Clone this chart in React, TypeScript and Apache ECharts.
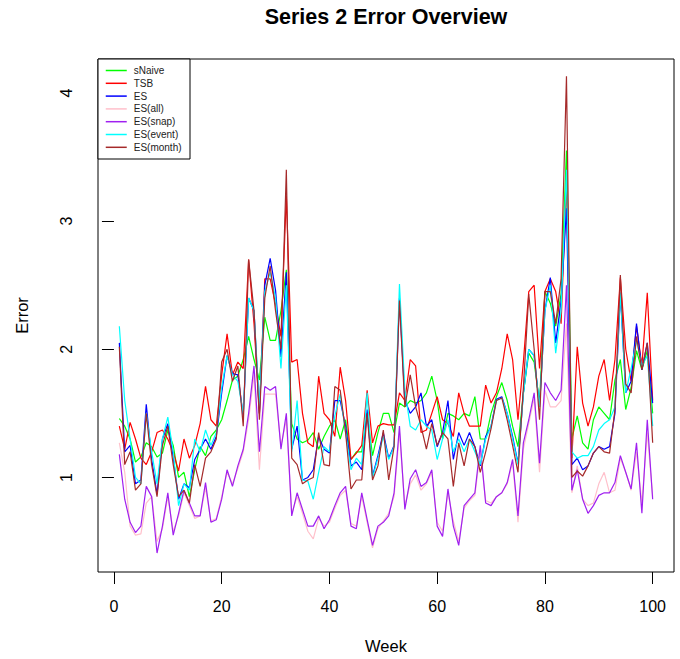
import { useEffect, useRef } from "react";
import * as echarts from "echarts";

const seriesNames = ["sNaive", "TSB", "ES", "ES(all)", "ES(snap)", "ES(event)", "ES(month)"];
const seriesColors = ["#00FF00", "#FF0000", "#0000FF", "#FFC0CB", "#A020F0", "#00FFFF", "#A52A2A"];

const xTicks = [0, 20, 40, 60, 80, 100];
const yTicks = [1, 2, 3, 4];

const sNaive = [
  1.46, 1.40, 1.30, 1.12, 1.16, 1.27, 1.24, 1.16, 1.19, 1.37,
  1.25, 1.00, 1.04, 0.85, 1.06, 1.24, 1.17, 1.32, 1.37, 1.45,
  1.60, 1.76, 1.79, 1.92, 2.10, 1.92, 1.76, 2.25, 2.07, 2.07,
  2.30, 2.62, 1.42, 1.30, 1.27, 1.29, 1.35, 1.22, 1.32, 1.40,
  1.45, 1.30, 1.45, 1.14, 1.20, 1.20, 1.50, 1.17, 1.35, 1.50,
  1.50, 1.35, 1.58, 1.55, 1.60, 1.58, 1.60, 1.66, 1.79, 1.60,
  1.30, 1.50, 1.48, 1.45, 1.50, 1.48, 1.63, 1.30, 1.30, 1.50,
  1.63, 1.74, 1.60, 1.40, 1.24, 1.66, 1.97, 1.90, 1.58, 2.45,
  2.36, 2.18, 2.43, 3.55, 1.30, 1.48, 1.27, 1.22, 1.45, 1.55,
  1.50, 1.45, 1.76, 1.92, 1.53, 1.70, 1.99, 1.84, 1.99, 1.50,
];

const tsb = [
  1.40, 1.22, 1.43, 1.30, 1.15, 1.10, 1.20, 1.35, 1.37, 1.30,
  1.20, 1.05, 1.30, 1.15, 1.25, 1.42, 1.71, 1.45, 1.40, 1.80,
  2.12, 1.80, 1.90, 1.85, 2.70, 2.20, 1.50, 2.55, 2.55, 2.35,
  2.10, 3.20, 1.90, 1.92, 1.50, 1.27, 1.24, 1.79, 1.50, 1.45,
  1.32, 1.86, 1.60, 1.14, 1.19, 1.25, 1.68, 1.27, 1.40, 1.42,
  1.41, 1.41, 1.66, 1.60, 1.92, 1.87, 1.35, 1.37, 1.50, 1.63,
  1.45, 1.42, 1.32, 1.66, 1.50, 1.40, 1.40, 1.40, 1.72, 1.58,
  1.66, 1.85, 2.12, 1.92, 1.45, 1.90, 2.45, 2.50, 1.85, 2.45,
  2.55, 2.45, 2.20, 3.30, 1.15, 2.02, 1.58, 1.40, 1.55, 1.79,
  1.92, 1.60, 1.92, 2.56, 2.00, 1.75, 2.18, 1.87, 2.44, 1.60,
];

const es = [
  2.05, 1.20, 1.25, 0.95, 0.98, 1.57, 1.14, 0.87, 1.30, 1.42,
  1.16, 0.83, 0.95, 0.92, 1.14, 1.22, 1.30, 1.22, 1.32, 1.66,
  1.95, 1.81, 1.80, 1.48, 2.40, 2.30, 1.50, 2.50, 2.71, 2.46,
  1.94, 2.60, 1.22, 1.40, 0.98, 1.00, 1.06, 1.32, 1.22, 1.19,
  1.60, 1.60, 1.40, 1.09, 1.12, 1.06, 1.53, 1.01, 1.17, 1.35,
  1.15, 1.25, 2.40, 1.60, 1.50, 1.55, 1.66, 1.40, 1.45, 1.24,
  1.35, 1.60, 1.14, 1.35, 1.25, 1.35, 1.24, 1.09, 1.32, 1.40,
  1.61, 1.63, 1.50, 1.32, 1.11, 1.66, 2.00, 1.95, 1.55, 2.30,
  2.56, 2.05, 2.38, 3.10, 1.10, 1.15, 1.06, 1.09, 1.19, 1.24,
  1.22, 1.24, 1.50, 2.44, 1.66, 1.75, 2.20, 1.84, 2.05, 1.58,
];

const esAll = [
  1.27, 1.04, 0.62, 0.55, 0.56, 0.80, 0.85, 0.50, 0.60, 0.85,
  0.58, 0.70, 0.88, 0.78, 0.68, 0.70, 0.92, 0.66, 0.68, 0.85,
  1.04, 0.95, 1.07, 1.20, 1.45, 1.80, 1.06, 1.65, 1.65, 1.65,
  1.25, 1.45, 0.72, 0.85, 0.72, 0.58, 0.52, 0.68, 0.62, 0.65,
  0.76, 0.86, 0.90, 0.64, 0.62, 0.85, 0.65, 0.45, 0.60, 0.66,
  0.72, 0.85, 1.35, 0.78, 0.95, 1.02, 0.90, 0.95, 1.04, 0.65,
  0.58, 0.88, 0.66, 0.50, 0.76, 0.82, 0.86, 1.20, 0.82, 0.80,
  0.85, 0.88, 0.95, 1.12, 0.65, 1.22, 1.42, 1.62, 1.04, 1.68,
  1.55, 1.55, 1.60, 2.20, 0.88, 1.09, 0.83, 0.78, 0.80, 0.95,
  1.04, 0.88, 0.90, 1.15, 1.04, 0.90, 1.20, 0.80, 1.35, 0.85,
];

const esSnap = [
  1.18, 0.83, 0.65, 0.57, 0.62, 0.93, 0.85, 0.41, 0.62, 0.88,
  0.55, 0.72, 0.90, 0.80, 0.70, 0.70, 0.96, 0.65, 0.67, 0.83,
  1.06, 0.93, 1.09, 1.22, 1.50, 1.87, 1.20, 1.71, 1.68, 1.71,
  1.22, 1.50, 0.70, 0.88, 0.75, 0.62, 0.62, 0.70, 0.60, 0.67,
  0.78, 0.88, 0.93, 0.62, 0.60, 0.88, 0.67, 0.47, 0.62, 0.65,
  0.70, 0.88, 1.40, 0.75, 0.99, 1.06, 0.93, 0.96, 1.06, 0.62,
  0.54, 0.91, 0.62, 0.47, 0.78, 0.83, 0.88, 1.25, 0.80, 0.78,
  0.85, 0.88, 0.96, 1.14, 0.70, 1.27, 1.45, 1.66, 1.11, 1.74,
  1.66, 1.60, 1.68, 2.50, 0.90, 1.06, 0.83, 0.72, 0.78, 0.86,
  0.88, 0.88, 0.96, 1.17, 1.04, 0.91, 1.27, 0.72, 1.45, 0.83,
];

const esEvent = [
  2.18, 1.60, 1.30, 1.00, 0.95, 1.50, 1.20, 0.95, 1.30, 1.47,
  1.20, 0.78, 0.95, 0.90, 1.30, 1.20, 1.37, 1.25, 1.35, 1.70,
  1.95, 1.80, 1.75, 1.50, 2.40, 2.30, 1.55, 2.45, 2.60, 2.40,
  1.85, 2.50, 1.20, 1.60, 0.98, 0.97, 0.83, 1.04, 1.24, 1.20,
  1.48, 1.65, 1.35, 1.06, 1.15, 1.10, 1.66, 1.00, 1.15, 1.32,
  1.14, 1.24, 2.51, 1.68, 1.40, 1.37, 1.45, 1.40, 1.37, 1.14,
  1.30, 1.45, 1.20, 1.30, 1.20, 1.30, 1.20, 1.10, 1.30, 1.40,
  1.60, 1.62, 1.50, 1.30, 1.10, 1.65, 2.00, 1.95, 1.55, 2.30,
  2.50, 1.97, 2.30, 3.40, 1.20, 1.15, 1.17, 1.17, 1.24, 1.37,
  1.42, 1.45, 1.55, 2.44, 1.66, 1.85, 2.07, 1.87, 1.95, 1.40,
];

const esMonth = [
  2.02, 1.10, 1.20, 0.90, 0.95, 1.50, 1.10, 0.85, 1.25, 1.40,
  1.10, 0.85, 0.90, 0.80, 1.10, 0.93, 1.15, 1.20, 1.30, 1.90,
  2.00, 1.75, 1.87, 1.40, 2.70, 2.30, 1.45, 2.40, 2.65, 2.30,
  2.00, 3.40, 1.15, 1.10, 0.95, 0.98, 1.00, 1.35, 1.10, 1.09,
  1.71, 1.68, 1.35, 0.91, 0.98, 0.98, 1.50, 0.98, 1.09, 1.37,
  0.98, 1.24, 2.38, 1.55, 1.80, 1.55, 1.40, 1.22, 1.42, 1.25,
  1.35, 1.30, 0.93, 1.27, 1.09, 1.30, 1.24, 1.04, 1.20, 1.38,
  1.60, 1.62, 1.45, 1.25, 1.04, 1.70, 2.43, 2.00, 1.45, 2.45,
  2.45, 2.20, 2.55, 4.13, 1.00, 1.05, 1.01, 1.09, 1.19, 1.24,
  1.20, 1.19, 1.53, 2.58, 1.73, 1.66, 2.10, 1.84, 2.05, 1.27,
];

const seriesValues = [sNaive, tsb, es, esAll, esSnap, esEvent, esMonth];

const FONT = "'Liberation Sans', Arial, sans-serif";

export default function App() {
  const ref = useRef<HTMLDivElement>(null);

  useEffect(() => {
    document.body.style.margin = "0";
    const chart = echarts.init(ref.current!, null, { renderer: "svg" });
    chart.setOption({
      animation: false,
      backgroundColor: "#ffffff",
      textStyle: { fontFamily: FONT },
      title: {
        text: "Series 2 Error Overview",
        left: 386,
        top: 6,
        textAlign: "center",
        padding: 0,
        textStyle: { fontSize: 21.5, fontWeight: "bold", color: "#000", fontFamily: FONT },
      },
      grid: {
        left: 98,
        right: 6,
        top: 59,
        bottom: 86,
        show: true,
        borderColor: "#000",
        borderWidth: 1,
        backgroundColor: "transparent",
      },
      legend: {
        orient: "vertical",
        left: 105,
        top: 65.5,
        padding: 0,
        itemWidth: 21,
        itemHeight: 10,
        itemGap: 2.8,
        selectedMode: false,
        data: seriesNames,
        itemStyle: { opacity: 0 },
        lineStyle: { width: 1.5 },
        textStyle: { fontSize: 10, color: "#222", fontFamily: FONT, lineHeight: 10, padding: [0, 0, 0, 2] },
        z: 20,
      },
      graphic: [
        {
          type: "rect",
          z: 10,
          shape: { x: 98, y: 59, width: 92, height: 100 },
          style: { fill: "#fff", stroke: "#000", lineWidth: 1 },
        },
      ],
      xAxis: {
        type: "value",
        min: -2.96,
        max: 103.96,
        name: "Week",
        nameLocation: "middle",
        nameGap: 65,
        nameTextStyle: { fontSize: 16.5, color: "#000", fontFamily: FONT },
        axisLine: { show: false },
        splitLine: { show: false },
        axisTick: { show: true, customValues: xTicks, length: 12, lineStyle: { color: "#000", width: 1 } },
        axisLabel: { customValues: xTicks, margin: 26, fontSize: 16, color: "#000", fontFamily: FONT },
      },
      yAxis: {
        type: "value",
        min: 0.262,
        max: 4.265,
        name: "Error",
        nameLocation: "middle",
        nameGap: 68,
        nameRotate: 90,
        nameTextStyle: { fontSize: 16.5, color: "#000", fontFamily: FONT },
        axisLine: { show: false },
        splitLine: { show: false },
        axisTick: { show: true, customValues: yTicks, length: 12, lineStyle: { color: "#000", width: 1 } },
        axisLabel: { customValues: yTicks, margin: 24, rotate: 90, fontSize: 16, color: "#000", fontFamily: FONT },
      },
      series: seriesNames.map((name, k) => ({
        name,
        type: "line",
        symbol: "none",
        silent: true,
        z: 2 + k * 0.01,
        data: seriesValues[k].map((v, i) => [i + 1, v]),
        lineStyle: { width: 1.2, color: seriesColors[k] },
        itemStyle: { color: seriesColors[k] },
        emphasis: { disabled: true },
      })),
    });
    return () => chart.dispose();
  }, []);

  return <div ref={ref} style={{ width: 680, height: 659 }} />;
}
